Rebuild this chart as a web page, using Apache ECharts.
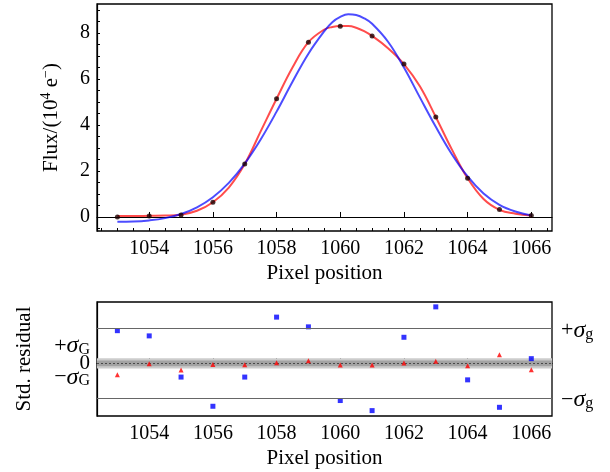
<!DOCTYPE html>
<html><head><meta charset="utf-8">
<script src="https://cdn.jsdelivr.net/npm/echarts@6/dist/echarts.min.js"></script>
<style>html,body{margin:0;padding:0;background:#fff}#c{width:610px;height:472px}</style>
</head><body><div id="c"></div>
<script>
// ---- data ----
const pixels = [1053,1054,1055,1056,1057,1058,1059,1060,1061,1062,1063,1064,1065,1066];
const fluxObserved = [0.00,0.04,0.09,0.64,2.30,5.14,7.60,8.29,7.87,6.65,4.35,1.68,0.32,0.06];
const fitX = [1053,1053.5,1054,1054.5,1055,1055.5,1056,1056.5,1057,1057.5,1058,1058.5,1059,1059.5,1059.75,1060,1060.25,1060.5,1060.75,1061,1061.5,1062,1062.5,1063,1063.5,1064,1064.5,1065,1065.5,1066];
const redFit = [0.04,0.04,0.05,0.06,0.10,0.27,0.64,1.28,2.30,3.72,5.14,6.50,7.60,8.15,8.26,8.30,8.30,8.23,8.08,7.87,7.34,6.65,5.68,4.35,2.95,1.68,0.78,0.31,0.14,0.06];
const blueFit = [-0.21,-0.20,-0.15,-0.05,0.13,0.42,0.86,1.48,2.32,3.37,4.58,5.88,7.10,8.08,8.47,8.70,8.81,8.78,8.64,8.40,7.62,6.50,5.20,3.92,2.74,1.76,1.02,0.53,0.24,0.07];
const residBlue = [1.88,1.58,-0.79,-2.47,-0.79,2.66,2.10,-2.14,-2.72,1.50,3.25,-0.95,-2.53,0.27];
const residRed = [-0.66,-0.02,-0.39,-0.06,-0.08,0.03,0.15,-0.10,-0.10,0.02,0.12,-0.14,0.50,-0.37];
const xMajorTicks = [1054,1056,1058,1060,1062,1064,1066];
const xMinorTicks = [1052.5,1053,1053.5,1054,1054.5,1055,1055.5,1056,1056.5,1057,1057.5,1058,1058.5,1059,1059.5,1060,1060.5,1061,1061.5,1062,1062.5,1063,1063.5,1064,1064.5,1065,1065.5,1066,1066.5];
const yMajorTicks = [0,2,4,6,8];
const yMinorTicks = [-0.5,0,0.5,1,1.5,2,2.5,3,3.5,4,4.5,5,5.5,6,6.5,7,7.5,8,8.5,9];
const sigmaLines = [2, -2];
const zeroLabel = [0];
const sigmaGLabels = [1.0, -0.8];
const sigmaLineLabels = [1.88, -2.1];

const F = 'Liberation Serif';
const xR = [1052.36, 1066.65];
const yTopR = [-0.61, 9.26];
const yBotR = [-3.03, 3.53];

const chart = echarts.init(document.getElementById('c'), null, {renderer: 'canvas'});

function xAxes(gi) {
  return [
    {gridIndex: gi, type: 'value', min: xR[0], max: xR[1], position: 'bottom',
     axisLine: {show: true, lineStyle: {color: '#000', width: 1.2}},
     axisTick: {show: true, inside: true, length: 5, customValues: xMajorTicks, lineStyle: {color: '#000', width: 1}},
     axisLabel: {show: true, customValues: xMajorTicks, formatter: v => String(v), hideOverlap: false,
       fontFamily: F, fontSize: 20, color: '#000', margin: 8},
     splitLine: {show: false},
     name: 'Pixel position', nameLocation: 'middle', nameGap: 32,
     nameTextStyle: {fontFamily: F, fontSize: 21, color: '#000'}},
    {gridIndex: gi, type: 'value', min: xR[0], max: xR[1], position: 'bottom', offset: 0,
     axisLine: {show: false},
     axisTick: {show: true, inside: true, length: 3, customValues: xMinorTicks, lineStyle: {color: '#000', width: 1}},
     axisLabel: {show: false}, splitLine: {show: false}}
  ];
}

const richSig = {
  t: {fontFamily: F, fontSize: 22, color: '#000', lineHeight: 20},
  s: {fontFamily: F, fontSize: 24, fontStyle: 'italic', color: '#000', lineHeight: 20},
  b: {fontFamily: F, fontSize: 16, color: '#000', lineHeight: 14, padding: [8, 0, 0, 0]}
};

const option = {
  animation: false,
  backgroundColor: '#fff',
  grid: [
    {left: 97, top: 4, width: 455, height: 227, show: true, borderColor: '#000', borderWidth: 1.3, backgroundColor: 'transparent'},
    {left: 97, top: 302, width: 455, height: 114, show: true, borderColor: '#000', borderWidth: 1.3, backgroundColor: 'transparent'}
  ],
  xAxis: [].concat(xAxes(0), xAxes(1)),
  yAxis: [
    {gridIndex: 0, type: 'value', min: yTopR[0], max: yTopR[1],
     axisLine: {show: true, lineStyle: {color: '#000', width: 1.2}},
     axisTick: {show: true, inside: true, length: 3, customValues: yMinorTicks, lineStyle: {color: '#000'}},
     axisLabel: {show: true, customValues: yMajorTicks, hideOverlap: false, fontFamily: F, fontSize: 20, color: '#000', margin: 7},
     splitLine: {show: false},
     name: '{a|Flux/(10}{p|4}{a| e}{p|−}{a|)}', nameLocation: 'middle', nameGap: 34, nameRotate: 90,
     nameTextStyle: {rich: {a: {fontFamily: F, fontSize: 21, color: '#000'}, p: {fontFamily: F, fontSize: 14, color: '#000', padding: [0, 0, 10, 0]}}}},
    {gridIndex: 1, type: 'value', min: yBotR[0], max: yBotR[1], position: 'left',
     axisLine: {show: true, lineStyle: {color: '#000', width: 1.2}},
     axisTick: {show: false},
     axisLabel: {show: true, customValues: zeroLabel, margin: 7, hideOverlap: false,
       formatter: () => '0', fontFamily: F, fontSize: 21, color: '#000'},
     splitLine: {show: false},
     name: 'Std. residual', nameLocation: 'middle', nameGap: 62, nameRotate: 90,
     nameTextStyle: {fontFamily: F, fontSize: 21, color: '#000'}},
    {gridIndex: 1, type: 'value', min: yBotR[0], max: yBotR[1], position: 'right',
     axisLine: {show: false}, axisTick: {show: false}, splitLine: {show: false},
     axisLabel: {show: true, customValues: sigmaLineLabels, margin: 9, hideOverlap: false,
       formatter: v => v > 0 ? '{t|+}{s|σ}{b|g}' : '{t|−}{s|σ}{b|g}', rich: richSig}},
    {gridIndex: 1, type: 'value', min: yBotR[0], max: yBotR[1], position: 'left', offset: 0,
     axisLine: {show: false}, axisTick: {show: false}, splitLine: {show: false},
     axisLabel: {show: true, customValues: sigmaGLabels, margin: 7, hideOverlap: false,
       formatter: v => v > 0 ? '{t|+}{s|σ}{b|G}' : '{t|−}{s|σ}{b|G}', rich: richSig}}
  ],
  series: [
    {type: 'line', xAxisIndex: 0, yAxisIndex: 0, data: fitX.map((x, i) => [x, redFit[i]]),
     smooth: 0.4, showSymbol: false, lineStyle: {color: 'rgba(255,0,0,0.7)', width: 2}, z: 2},
    {type: 'line', xAxisIndex: 0, yAxisIndex: 0, data: fitX.map((x, i) => [x, blueFit[i]]),
     smooth: 0.4, showSymbol: false, lineStyle: {color: 'rgba(0,0,255,0.7)', width: 2}, z: 2},
    {type: 'scatter', xAxisIndex: 0, yAxisIndex: 0, data: pixels.map((x, i) => [x, fluxObserved[i]]),
     symbol: 'circle', symbolSize: 5, itemStyle: {color: '#1a0000'}, z: 4},
    {type: 'scatter', xAxisIndex: 2, yAxisIndex: 1, data: [], silent: true,
     markArea: {silent: true, data: [
       [{yAxis: -0.29, itemStyle: {color: '#cccccc'}}, {yAxis: 0.29}],
       [{yAxis: -0.17, itemStyle: {color: '#a3a3a3'}}, {yAxis: 0.17}]
     ]},
     markLine: {silent: true, symbol: 'none', label: {show: false}, data: [
       {yAxis: sigmaLines[0], lineStyle: {color: '#666', width: 1, type: 'solid'}},
       {yAxis: sigmaLines[1], lineStyle: {color: '#666', width: 1, type: 'solid'}},
       {yAxis: 0, lineStyle: {color: '#333', width: 0.8, type: [2, 2]}}
     ]}},
    {type: 'scatter', xAxisIndex: 2, yAxisIndex: 1, data: pixels.map((x, i) => [x, residBlue[i]]),
     symbol: 'rect', symbolSize: 5, itemStyle: {color: '#0000ff'}, z: 4},
    {type: 'scatter', xAxisIndex: 2, yAxisIndex: 1, data: pixels.map((x, i) => [x, residRed[i]]),
     symbol: 'triangle', symbolSize: 5, itemStyle: {color: '#ff0000'}, z: 5}
  ]
};
chart.setOption(option);
</script></body></html>
